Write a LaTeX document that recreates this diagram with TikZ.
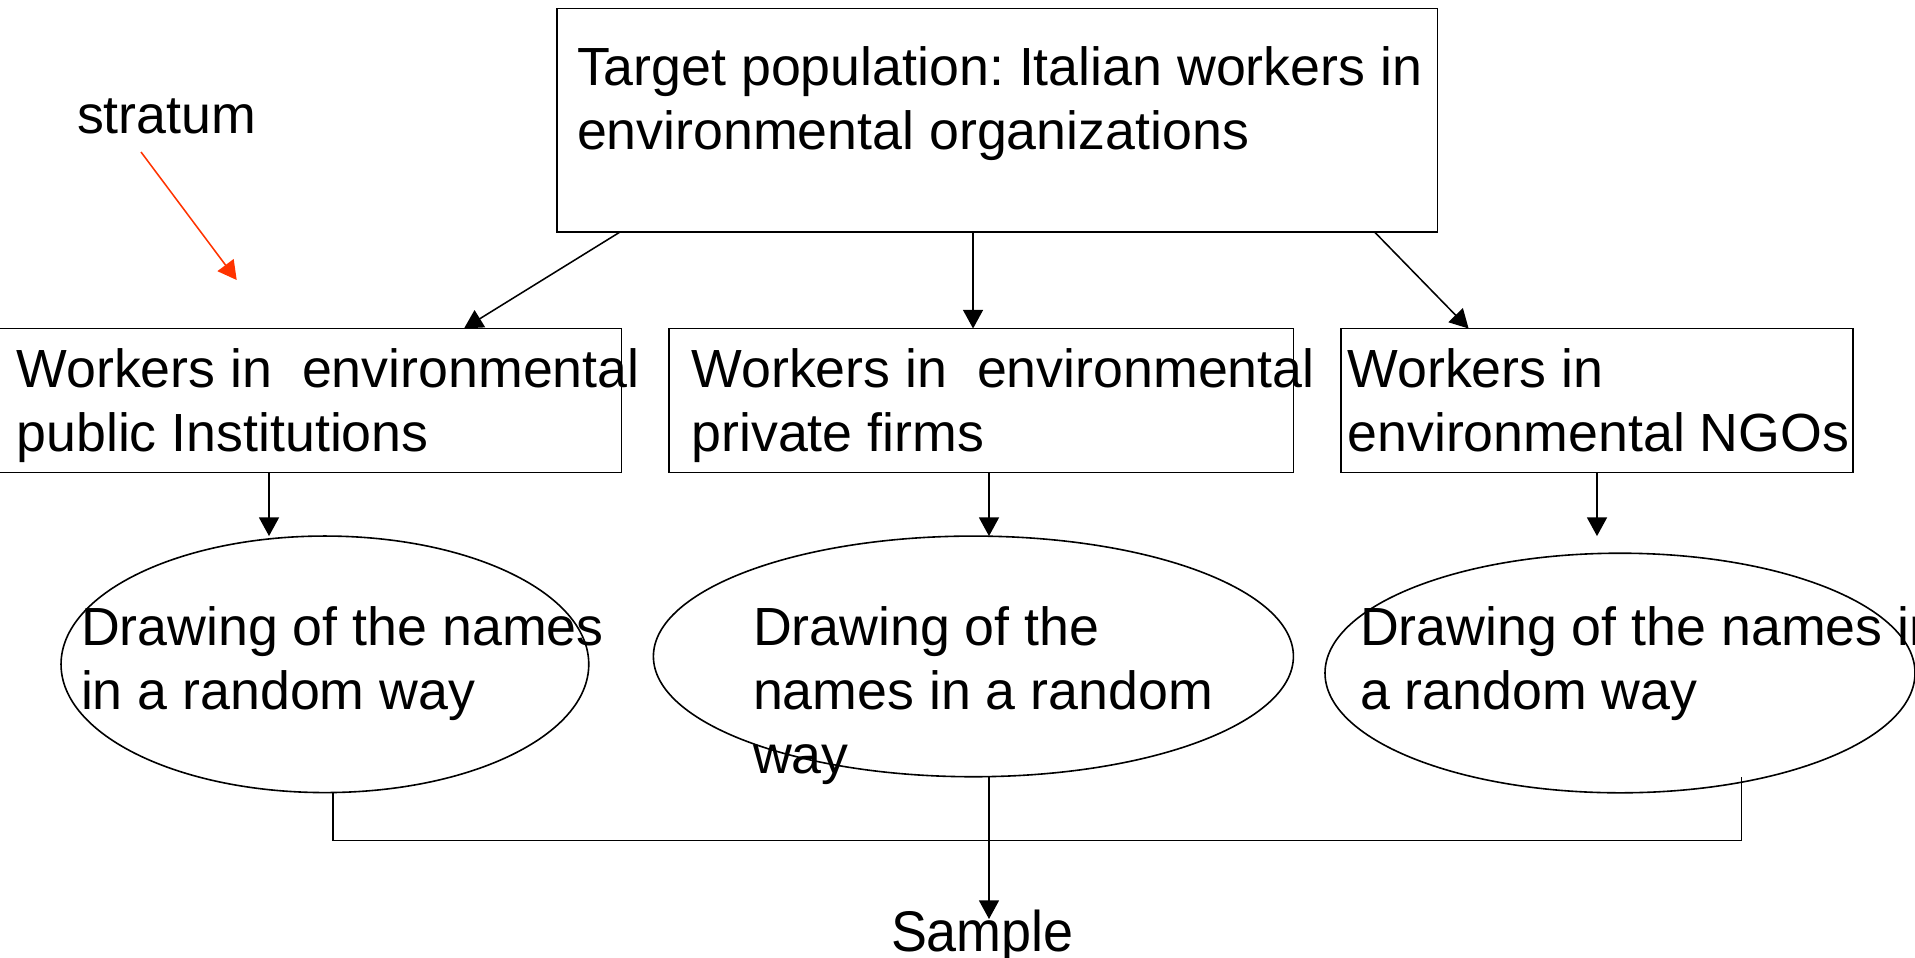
\documentclass[tikz,border=0pt]{standalone}
\usepackage{fontspec}
\setmainfont{Liberation Sans}
\usepackage{graphicx}
\usetikzlibrary{arrows.meta,calc,shapes.geometric,fit}
% left-aligned block of lines whose baseline is that of its first line
\newcommand\txtlines[1]{\begin{tabular}[t]{@{}l@{}}#1\end{tabular}}
\definecolor{stratred}{HTML}{FF3300}
\frenchspacing
\begin{document}
\begin{tikzpicture}[x=0.75pt,y=-0.75pt,
  box/.style={draw,line width=1.25pt,rectangle,inner sep=0pt,outer sep=0pt},
  oval/.style={draw,line width=1.2pt,ellipse,inner sep=0pt,outer sep=0pt},
  lbl/.style={inner sep=0pt,outer sep=0pt,anchor=base west,
              font=\fontsize{40.3pt}{48pt}\selectfont},
  link/.style={line width=1.15pt},
  arr/.style={link,-{Triangle[length=14pt,width=15pt]}},
]
\useasboundingbox (0,0) rectangle (1915,957);

% population box and the three strata
\node[box,fit={(557,8.5)(1437.5,232)}] (top) {};
\node[box,fit={(-2,328.5)(621.6,472.6)}] (bL) {};
\node[box,fit={(669,328.5)(1293.5,472.6)}] (bM) {};
\node[box,fit={(1341,328.5)(1853,472.6)}] (bR) {};

% random drawing within each stratum
\node[oval,minimum width=395.8pt,minimum height=192.4pt] (e1) at (324.9,664.3) {};
\node[oval,minimum width=480pt,minimum height=180.5pt] (e2) at (973.4,656.4) {};
\node[oval,minimum width=442.5pt,minimum height=179.7pt] (e3) at (1620,673) {};

% texts
\node[lbl] (ttop) at (577,85) {\txtlines{Target population: Italian workers in\\environmental organizations}};
\node[lbl] (tL) at (16.5,387) {\txtlines{Workers in\ \ environmental\\public Institutions}};
\node[lbl] (tM) at (691.5,387) {\txtlines{Workers in\ \ environmental\\private firms}};
\node[lbl] (tR) at (1347.5,387) {\txtlines{Workers in\\environmental NGOs}};
\node[lbl] (t1) at (81,645) {\txtlines{Drawing of the names\\in a random way}};
\node[lbl] (t2) at (753,645) {\txtlines{Drawing of the\\names in a random\\way}};
\node[lbl] (t3) at (1360,645) {\txtlines{Drawing of the names in\\a random way}};
\node[lbl] (stratum) at (77,133) {stratum};
\node[lbl,font=\fontsize{43pt}{50pt}\selectfont] (sample) at (891,951.5) {\scalebox{0.94}[1]{Sample}};

% population to strata
\draw[arr] ($(top.south west)!0.0716!(top.south east)$) -- ($(bL.north west)!0.7473!(bL.north east)$);
\draw[arr] ($(top.south west)!0.4725!(top.south east)$) coordinate (pm) -- (pm |- bM.north);
\draw[arr] ($(top.south west)!0.9285!(top.south east)$) -- ($(bR.north west)!0.2492!(bR.north east)$);

% strata to drawings
\draw[arr] ($(bL.south west)!0.4346!(bL.south east)$) coordinate (pl) -- (pl |- e1.north);
\draw[arr] ($(bM.south west)!0.5124!(bM.south east)$) coordinate (pc) -- (pc |- e2.north);
\draw[arr] (bR.south) -- (bR.south |- e2.north);

% drawings joined into the sample
\coordinate (bus) at (989,840.3);
\coordinate (c3) at ($(e3.center)+(121.7,104)$);
\coordinate (tip) at (989,919);
\draw[link] ($(e1.south)+(8,0)$) |- (bus) -| (c3);
\draw[arr] (pc |- e2.south) -- (pc |- tip);

% stratum pointer
\coordinate (sa) at (141,152);
\coordinate (sb) at (236.7,280);
\draw[arr,stratred] (sa) -- (sb);
\end{tikzpicture}
\end{document}
